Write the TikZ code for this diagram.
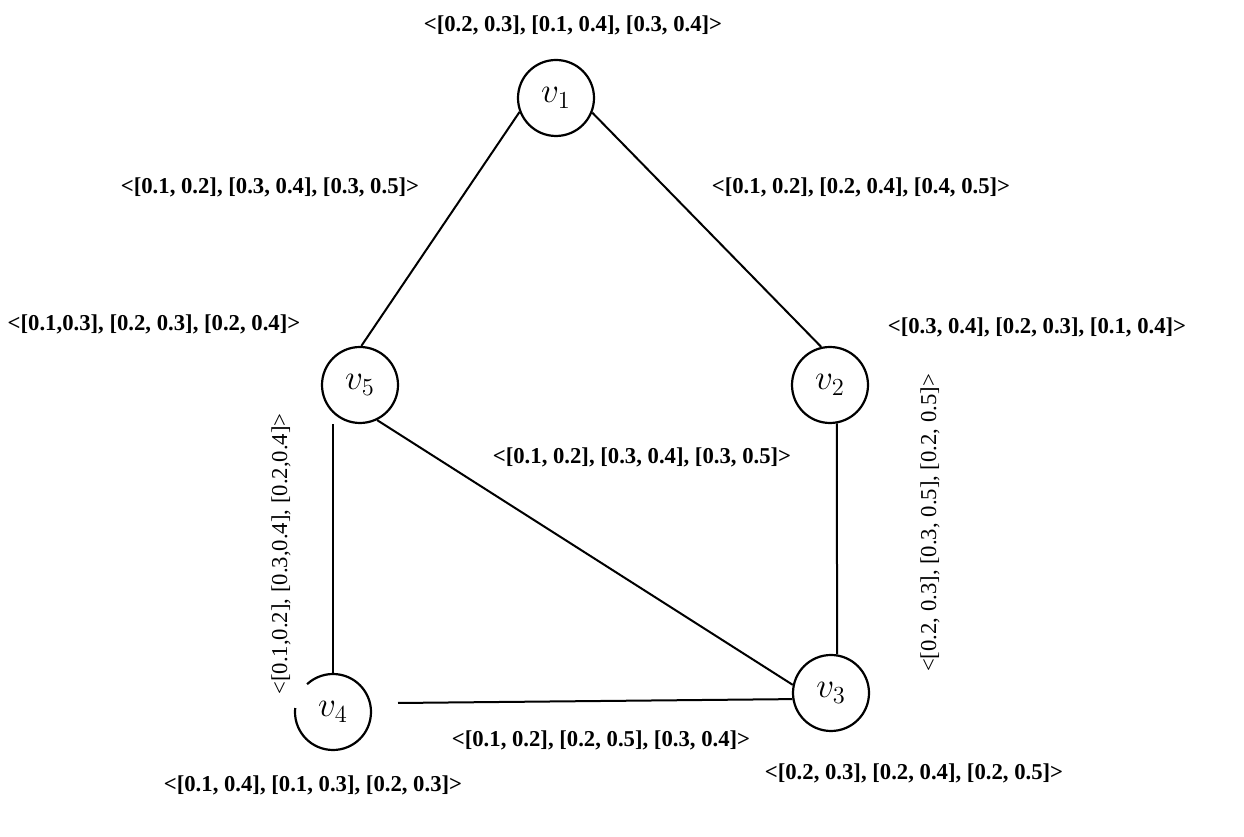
\documentclass[tikz,border=0pt]{standalone}
\usepackage{graphicx}
\usepackage{fontspec}
\setmainfont{Liberation Serif}
\usetikzlibrary{calc}
\newcommand{\vlab}[1]{\scalebox{1.7}{$v_{#1}$}}
\begin{document}
\begin{tikzpicture}[x=1pt,y=1pt,
  vtx/.style={circle,draw,line width=2.2pt,minimum size=76pt,inner sep=0pt,font=\fontsize{20}{24}\selectfont},
  vtxopen/.style={circle,minimum size=76pt,inner sep=0pt,font=\fontsize{20}{24}\selectfont},
  edge/.style={line width=2pt},
  lbl/.style={font=\fontsize{22.7}{27}\selectfont\bfseries,inner sep=0pt},
  vlbl/.style={font=\fontsize{22.7}{27}\selectfont,inner sep=0pt,rotate=90}]
\useasboundingbox (0,0) rectangle (1244,837);
% vertices
\node[vtx] (v1) at (556,739) {\vlab{1}};
\node[vtx] (v5) at (360,452) {\vlab{5}};
\node[vtx] (v2) at (830,452) {\vlab{2}};
\node[vtx] (v3) at (831,144) {\vlab{3}};
\node[vtxopen] (v4) at (333,125) {\vlab{4}};
\draw[line width=2.2pt] ($(v4.center)+(174:38)$) arc[start angle=174, end angle=493, radius=38];
% edges
\draw[edge] (v1.201) -- (v5.88);
\draw[edge] (v1.338) -- (v2.103);
\draw[edge] (v4.north |- v5.south) -- (v4.north);
\draw[edge] (v2.280) -- (v3.81);
\draw[edge] (v5.296) -- (v3.168);
\coordinate (e43) at (398,134);
\draw[edge] (e43) -- (v3.189);
% labels
\node[lbl] (l1) at (573,812) {<[0.2, 0.3], [0.1, 0.4], [0.3, 0.4]>};
\node[lbl] (l15) at (270,650) {<[0.1, 0.2], [0.3, 0.4], [0.3, 0.5]>};
\node[lbl] (l12) at (861,650) {<[0.1, 0.2], [0.2, 0.4], [0.4, 0.5]>};
\node[lbl] (l5) at (154,513) {<[0.1,0.3], [0.2, 0.3], [0.2, 0.4]>};
\node[lbl] (l2) at (1037,510) {<[0.3, 0.4], [0.2, 0.3], [0.1, 0.4]>};
\node[lbl] (l53) at (642,380) {<[0.1, 0.2], [0.3, 0.4], [0.3, 0.5]>};
\node[lbl] (l43) at (601,97) {<[0.1, 0.2], [0.2, 0.5], [0.3, 0.4]>};
\node[lbl] (l3) at (914,64) {<[0.2, 0.3], [0.2, 0.4], [0.2, 0.5]>};
\node[lbl] (l4) at (313,52) {<[0.1, 0.4], [0.1, 0.3], [0.2, 0.3]>};
\node[vlbl] (l54) at (281,283) {<[0.1,0.2], [0.3,0.4], [0.2,0.4]>};
\node[vlbl] (l23) at (930,314) {<[0.2, 0.3], [0.3, 0.5], [0.2, 0.5]>};
\end{tikzpicture}
\end{document}
